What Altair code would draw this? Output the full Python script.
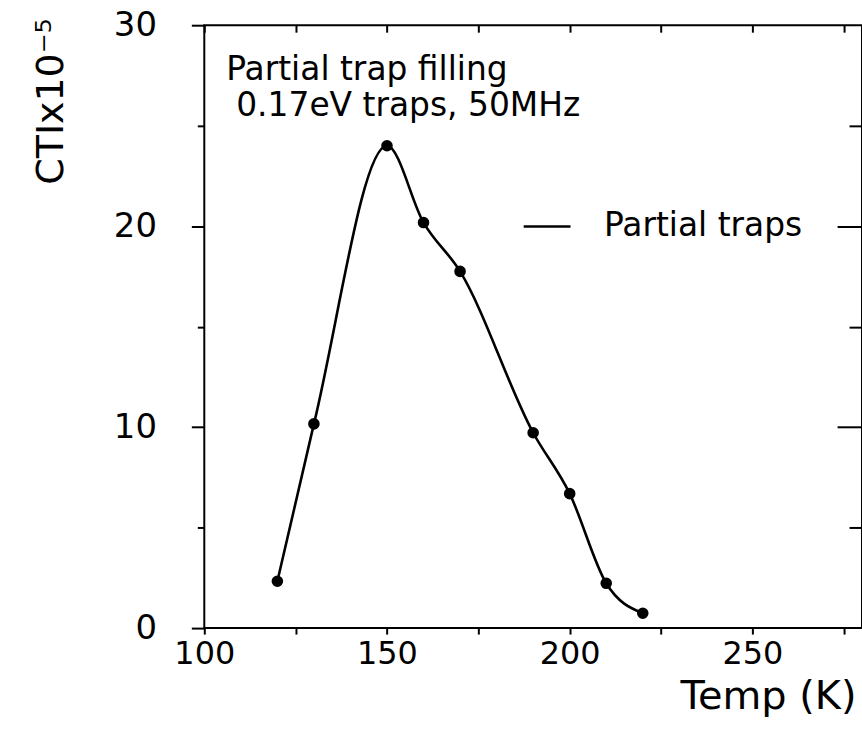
import altair as alt
import pandas as pd

# ---- data ----
temps = [120, 130, 150, 160, 170, 190, 200, 210, 220]
cti = [2.33, 10.16, 24.0, 20.18, 17.75, 9.72, 6.69, 2.23, 0.74]
series_name = "Partial traps"

x_ticks = [100, 125, 150, 175, 200, 225, 250, 275]
y_ticks = [0, 5, 10, 15, 20, 25, 30]
y_right_major = [10, 20]
y_right_minor = [5, 15, 25]
annotation_lines = ["Partial trap filling", "0.17eV traps, 50MHz"]

x_title = "Temp (K)"
y_title = "CTIx10\u207b\u2075"

df = pd.DataFrame({"temp": temps, "cti": cti, "series": [series_name] * len(temps)})

FONT = "DejaVu Sans"
W, H = 660, 605

xscale = alt.Scale(domain=[100, 280], nice=False, zero=False)
yscale = alt.Scale(domain=[0, 30], nice=False, zero=False)

line = alt.Chart(df).mark_line(interpolate="monotone", strokeWidth=2.6, color="black").encode(
    x=alt.X(
        "temp:Q",
        scale=xscale,
        axis=alt.Axis(
            orient="bottom", values=x_ticks,
            labelExpr="datum.value % 50 === 0 ? datum.label : ''",
            labelOverlap=False, labelFlush=False,
            tickSize=6, tickWidth=2, tickColor="black",
            labelFont=FONT, labelFontSize=32, labelColor="black", labelPadding=5,
            domain=False, grid=False,
            title=x_title, titleFont=FONT, titleFontSize=40, titleFontWeight="normal",
            titleColor="black", titleX=654, titleY=81, titleAlign="right",
            titleBaseline="alphabetic",
        ),
    ),
    y=alt.Y(
        "cti:Q",
        scale=yscale,
        axis=alt.Axis(
            orient="left", values=y_ticks,
            labelExpr="datum.value % 10 === 0 ? datum.label : ''",
            labelOverlap=False, labelFlush=False,
            tickSize={"condition": {"test": "datum.value % 10 === 0", "value": 13}, "value": 7},
            tickWidth=2, tickColor="black",
            labelFont=FONT, labelFontSize=34, labelColor="black", labelPadding=35,
            domain=False, grid=False,
            title=y_title, titleFont=FONT, titleFontSize=38, titleFontWeight="normal",
            titleColor="black", titleAngle=270, titleX=-142, titleY=76,
            titleAlign="center", titleBaseline="alphabetic",
        ),
    ),
    color=alt.Color(
        "series:N",
        scale=alt.Scale(range=["black"]),
        legend=alt.Legend(
            orient="none", legendX=319, legendY=177, title=None,
            symbolType="stroke", symbolSize=2209, symbolStrokeWidth=2.5,
            labelFont=FONT, labelFontSize=33, labelColor="black",
            labelOffset=32, labelLimit=0, padding=0,
        ),
    ),
)

points = alt.Chart(df).mark_point(filled=True, size=135, color="black", opacity=1).encode(
    x=alt.X(
        "temp:Q", scale=xscale,
        axis=alt.Axis(orient="top", values=x_ticks, labels=False, domain=False, grid=False,
                      tickSize=7, offset=-7, tickWidth=2, tickColor="black", title=None),
    ),
    y=alt.Y(
        "cti:Q", scale=yscale,
        axis=alt.Axis(orient="right", values=y_right_major, labels=False, domain=False, grid=False,
                      tickSize=25, offset=-25, tickWidth=2, tickColor="black", title=None),
    ),
)

minor = alt.Chart(df).mark_point(opacity=0).encode(
    x=alt.X("temp:Q", scale=xscale, axis=None),
    y=alt.Y(
        "cti:Q", scale=yscale,
        axis=alt.Axis(orient="right", values=y_right_minor, labels=False, domain=False, grid=False,
                      tickSize=13, offset=-13, tickWidth=2, tickColor="black", title=None),
    ),
)

text1 = alt.Chart(pd.DataFrame({"t": [annotation_lines[0]]})).mark_text(
    font=FONT, fontSize=33, align="left", baseline="alphabetic", color="black"
).encode(x=alt.value(22), y=alt.value(55), text="t:N")

text2 = alt.Chart(pd.DataFrame({"t": [annotation_lines[1]]})).mark_text(
    font=FONT, fontSize=33, align="left", baseline="alphabetic", color="black"
).encode(x=alt.value(32), y=alt.value(91), text="t:N")

chart = (
    alt.layer(line, points, minor, text1, text2)
    .resolve_axis(x="independent", y="independent")
    .properties(
        width=W, height=H,
        autosize=alt.AutoSizeParams(type="none"),
        padding={"left": 205, "top": 24, "right": 0, "bottom": 109},
        background="white",
    )
    .configure_view(stroke="black", strokeWidth=2)
)

chart.save("out.html", embed_options={"renderer": "svg", "actions": False})
